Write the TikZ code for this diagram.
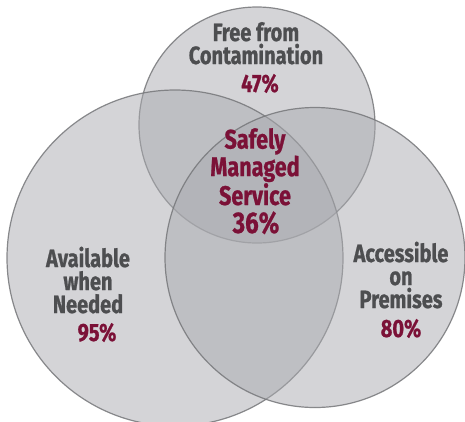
\documentclass[tikz,border=0pt]{standalone}
\usepackage{fontspec}
\setmainfont{Fira Sans}[FakeStretch=0.8, BoldFeatures={FakeBold=0.8}]
\usepackage{xcolor}
\definecolor{vennfill}{RGB}{170,171,176}
\definecolor{vennline}{RGB}{118,119,122}
\definecolor{labelgray}{RGB}{77,78,80}
\definecolor{pctred}{RGB}{123,17,55}

\begin{document}
\begin{tikzpicture}[x=1pt, y=-1pt,
  venn/.style={fill=vennfill, fill opacity=0.5, draw=vennline, draw opacity=0.85, line width=1.2pt},
  lbl/.style={font=\fontsize{25}{23}\selectfont\bfseries, text=labelgray, align=center, inner sep=0pt, anchor=base},
  pct/.style={font=\fontsize{25}{23}\selectfont\bfseries, text=pctred, inner sep=0pt, anchor=base}]
  \useasboundingbox[fill=white] (0,0) rectangle (465,421);
  \begin{scope}
    \clip (0,0) rectangle (465,421);
    \draw[venn] (257,125) circle (118);
    \draw[venn] (175,258) circle (168);
    \draw[venn] (315,257.5) circle (150);
  \end{scope}
  % top set
  \node[lbl] (free) at (256,64) {Free from\\Contamination};
  \node[pct] (freepct) at (260,92) {47\%};
  % left set
  \node[lbl] (avail) at (88,313) {Available\\when\\Needed};
  \node[pct] (availpct) at (97,341) {95\%};
  % right set
  \node[lbl] (access) at (401,308) {Accessible\\on\\Premises};
  \node[pct] (accesspct) at (401,337) {80\%};
  % middle
  \node[lbl, text=pctred, font=\fontsize{27}{23.5}\selectfont\bfseries] (safe) at (255,205) {Safely\\Managed\\Service};
  \node[pct, font=\fontsize{30}{30}\selectfont\bfseries] (safepct) at (256,233) {36\%};
\end{tikzpicture}
\end{document}
